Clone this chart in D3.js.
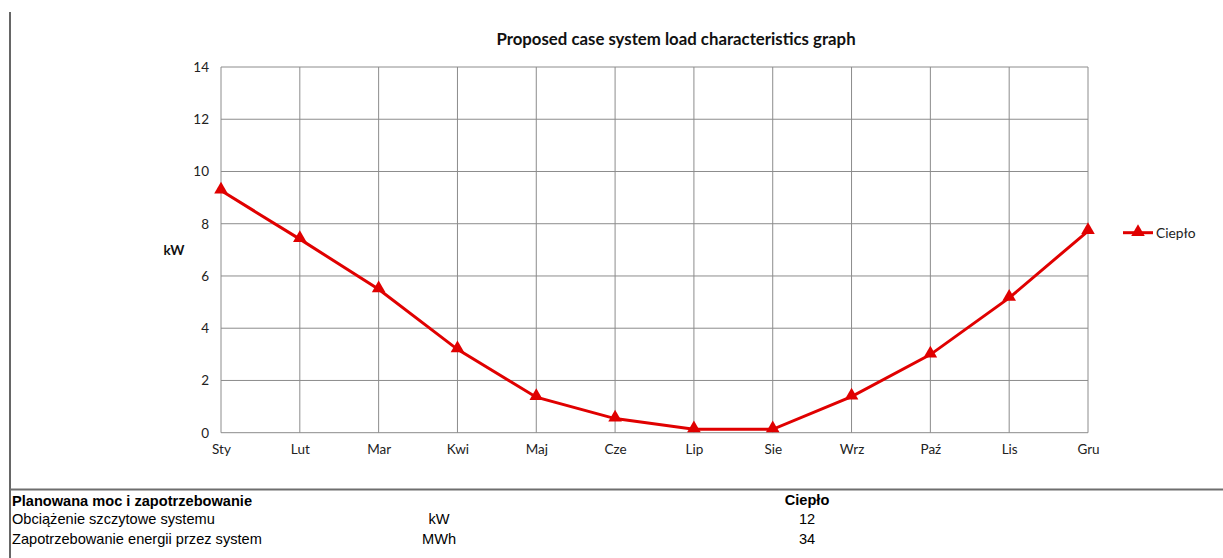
<!DOCTYPE html>
<html><head><meta charset="utf-8">
<script src="https://cdn.jsdelivr.net/npm/d3@7"></script>
<style>body{margin:0;background:#fff}svg{display:block}</style>
</head><body>
<script>
const months = ["Sty","Lut","Mar","Kwi","Maj","Cze","Lip","Sie","Wrz","Paź","Lis","Gru"];
const cieplo = [9.27,7.41,5.49,3.19,1.36,0.54,0.13,0.13,1.38,2.99,5.16,7.72];
const yTicks = [0,2,4,6,8,10,12,14];
const seriesName = "Ciepło";
const title = "Proposed case system load characteristics graph";
const yLabel = "kW";
const tableHeader = ["Planowana moc i zapotrzebowanie", "", "Ciepło"];
const tableRows = [["Obciążenie szczytowe systemu","kW","12"],["Zapotrzebowanie energii przez system","MWh","34"]];

const W=1223,H=558;
const svg=d3.select("body").append("svg").attr("width",W).attr("height",H);
const L=221,R=1088,T=67,B=432.7;
const x=d3.scalePoint().domain(months).range([L,R]);
const y=d3.scaleLinear().domain([0,14]).range([B,T]);
const cal="Lato, 'Open Sans', sans-serif";

// left border
svg.append("line").attr("x1",10).attr("x2",10).attr("y1",12).attr("y2",H).attr("stroke","#333").attr("stroke-width",1.5);

// grid
const g=svg.append("g");
g.selectAll(".hg").data(yTicks).join("line").attr("x1",L).attr("x2",R).attr("y1",d=>y(d)).attr("y2",d=>y(d)).attr("stroke","#8c8c8c").attr("stroke-width",1);
g.selectAll(".vg").data(months).join("line").attr("x1",d=>x(d)).attr("x2",d=>x(d)).attr("y1",T).attr("y2",B).attr("stroke","#8c8c8c").attr("stroke-width",1);

// axes labels
const ya=svg.append("g").attr("transform",`translate(${L},0)`).call(d3.axisLeft(y).tickValues(yTicks).tickSize(0).tickPadding(12));
ya.select(".domain").remove();
ya.selectAll("text").attr("font-family",cal).attr("font-size",13.5).attr("fill","#222");
const xa=svg.append("g").attr("transform",`translate(0,${B})`).call(d3.axisBottom(x).tickSize(0).tickPadding(12));
xa.select(".domain").remove();
xa.selectAll("text").attr("font-family",cal).attr("font-size",13.5).attr("fill","#222");

svg.append("text").attr("x",174).attr("y",255).attr("text-anchor","middle").attr("font-family",cal).attr("font-weight","bold").attr("font-size",13.5).attr("fill","#111").text(yLabel);
svg.append("text").attr("x",676).attr("y",45).attr("text-anchor","middle").attr("font-family",cal).attr("font-weight","bold").attr("font-size",16.8).attr("fill","#111").text(title);

// line
const red="#e00000";
svg.append("path").datum(cieplo).attr("fill","none").attr("stroke",red).attr("stroke-width",3)
  .attr("d",d3.line().x((d,i)=>x(months[i])).y(d=>y(d)));
const tri=d3.symbol().type(d3.symbolTriangle).size(80);
svg.selectAll(".m").data(cieplo).join("path").attr("d",tri).attr("fill",red)
  .attr("transform",(d,i)=>`translate(${x(months[i])},${y(d)-1})`);

// legend
svg.append("line").attr("x1",1123).attr("x2",1153).attr("y1",232.7).attr("y2",232.7).attr("stroke",red).attr("stroke-width",3);
svg.append("path").attr("d",tri).attr("fill",red).attr("transform","translate(1138,232)");
svg.append("text").attr("x",1156).attr("y",237.5).attr("font-family",cal).attr("font-size",13.8).attr("fill","#222").text(seriesName);

// table
svg.append("line").attr("x1",10).attr("x2",W).attr("y1",489.5).attr("y2",489.5).attr("stroke","#6e6e6e").attr("stroke-width",2);
const ar="'Liberation Sans', Arial, sans-serif";
const fs=14.6;
svg.append("text").attr("x",12).attr("y",506).attr("font-family",ar).attr("font-weight","bold").attr("font-size",fs).attr("fill","#000").text(tableHeader[0]);
svg.append("text").attr("x",807).attr("y",505).attr("text-anchor","middle").attr("font-family",ar).attr("font-weight","bold").attr("font-size",fs).attr("fill","#000").text(tableHeader[2]);
tableRows.forEach((r,i)=>{
  const yy=524+i*19.5;
  svg.append("text").attr("x",12).attr("y",yy).attr("font-family",ar).attr("font-size",fs).attr("fill","#000").text(r[0]);
  svg.append("text").attr("x",439).attr("y",yy).attr("text-anchor","middle").attr("font-family",ar).attr("font-size",fs).attr("fill","#000").text(r[1]);
  svg.append("text").attr("x",807).attr("y",yy).attr("text-anchor","middle").attr("font-family",ar).attr("font-size",fs).attr("fill","#000").text(r[2]);
});
</script>
</body></html>
